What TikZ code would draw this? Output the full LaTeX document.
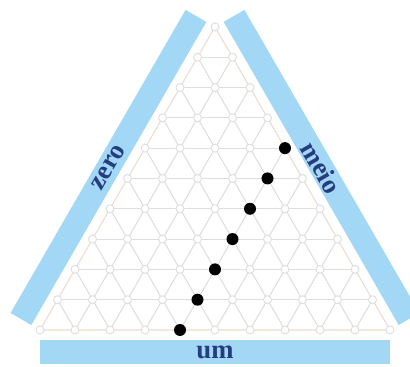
\documentclass[tikz,border=0pt]{standalone}
\usepackage{fontspec}
\setmainfont{Liberation Serif}
\usepackage{tikz}
\usetikzlibrary{calc}

\definecolor{balken}{RGB}{162,216,245}
\definecolor{schrift}{RGB}{38,60,128}
\definecolor{gitter}{RGB}{222,222,222}
\definecolor{rand}{RGB}{240,218,205}

\begin{document}
\begin{tikzpicture}[line cap=round,line join=round,x=0.75pt,y=0.75pt,
		gitterlinie/.style={color=gitter,line width=0.8pt},
		randlinie/.style={color=rand,line width=0.8pt},
		knoten/.style={circle,draw=gitter,fill=white,line width=0.7pt,inner sep=0pt,minimum size=6pt},
		punkt/.style={circle,fill=black,inner sep=0pt,minimum size=9pt},
		balkenlinie/.style={color=balken,line width=18pt,line cap=butt},
		beschriftung/.style={color=schrift,font=\fontsize{20}{24}\selectfont\bfseries,inner sep=0pt}]
		\useasboundingbox (0,0) rectangle (410,367);
		\clip (0,0) rectangle (410,367);

		% Gitterpunkte: Zeile r (von unten), Stelle k
		\foreach \r in {0,...,10} {
			\pgfmathtruncatemacro\kmax{10-\r}
			\foreach \k in {0,...,\kmax}
				\coordinate (v-\r-\k) at ({40+17.5*\r+35*\k},{37+30.31*\r});
		}

		% Linien des Gitters
		\foreach \r in {1,...,9} {
			\pgfmathtruncatemacro\kmax{10-\r}
			\draw[gitterlinie] (v-\r-0) -- (v-\r-\kmax);
		}
		\foreach \k in {1,...,9} {
			\pgfmathtruncatemacro\rmax{10-\k}
			\draw[gitterlinie] (v-0-\k) -- (v-\rmax-\k);
			\draw[gitterlinie] (v-0-\k) -- (v-\k-0);
		}
		\draw[randlinie] (v-0-0) -- (v-0-10) -- (v-10-0) -- cycle;

		% Knoten
		\foreach \r in {0,...,10} {
			\pgfmathtruncatemacro\kmax{10-\r}
			\foreach \k in {0,...,\kmax}
				\node[knoten] (c-\r-\k) at (v-\r-\k) {};
		}

		% Balken an den Seiten
		\coordinate (za) at ($(v-0-0)!16.5pt!90:(v-10-0)$);
		\coordinate (zb) at ($(v-10-0)!16.5pt!-90:(v-0-0)$);
		\coordinate (ma) at ($(v-0-10)!16.5pt!-90:(v-10-0)$);
		\coordinate (mb) at ($(v-10-0)!16.5pt!90:(v-0-10)$);
		\coordinate (ua) at ($(v-0-0)!16.5pt!-90:(v-0-10)$);
		\coordinate (ub) at ($(v-0-10)!16.5pt!90:(v-0-0)$);
		\draw[balkenlinie] (za) -- (zb);
		\draw[balkenlinie] (ma) -- (mb);
		\draw[balkenlinie] (ua) -- (ub);

		\node[beschriftung,rotate=60] (zero) at ($(za)!0.5!(zb)$) {zero};
		\node[beschriftung,rotate=-60] (meio) at ($(ma)!0.5!(mb)$) {meio};
		\node[beschriftung] (um) at ($(ua)!0.5!(ub)$) {um};

		% Punkte
		\foreach \r in {0,...,6}
			\node[punkt] (p-\r) at (v-\r-4) {};
	\end{tikzpicture}
\end{document}
